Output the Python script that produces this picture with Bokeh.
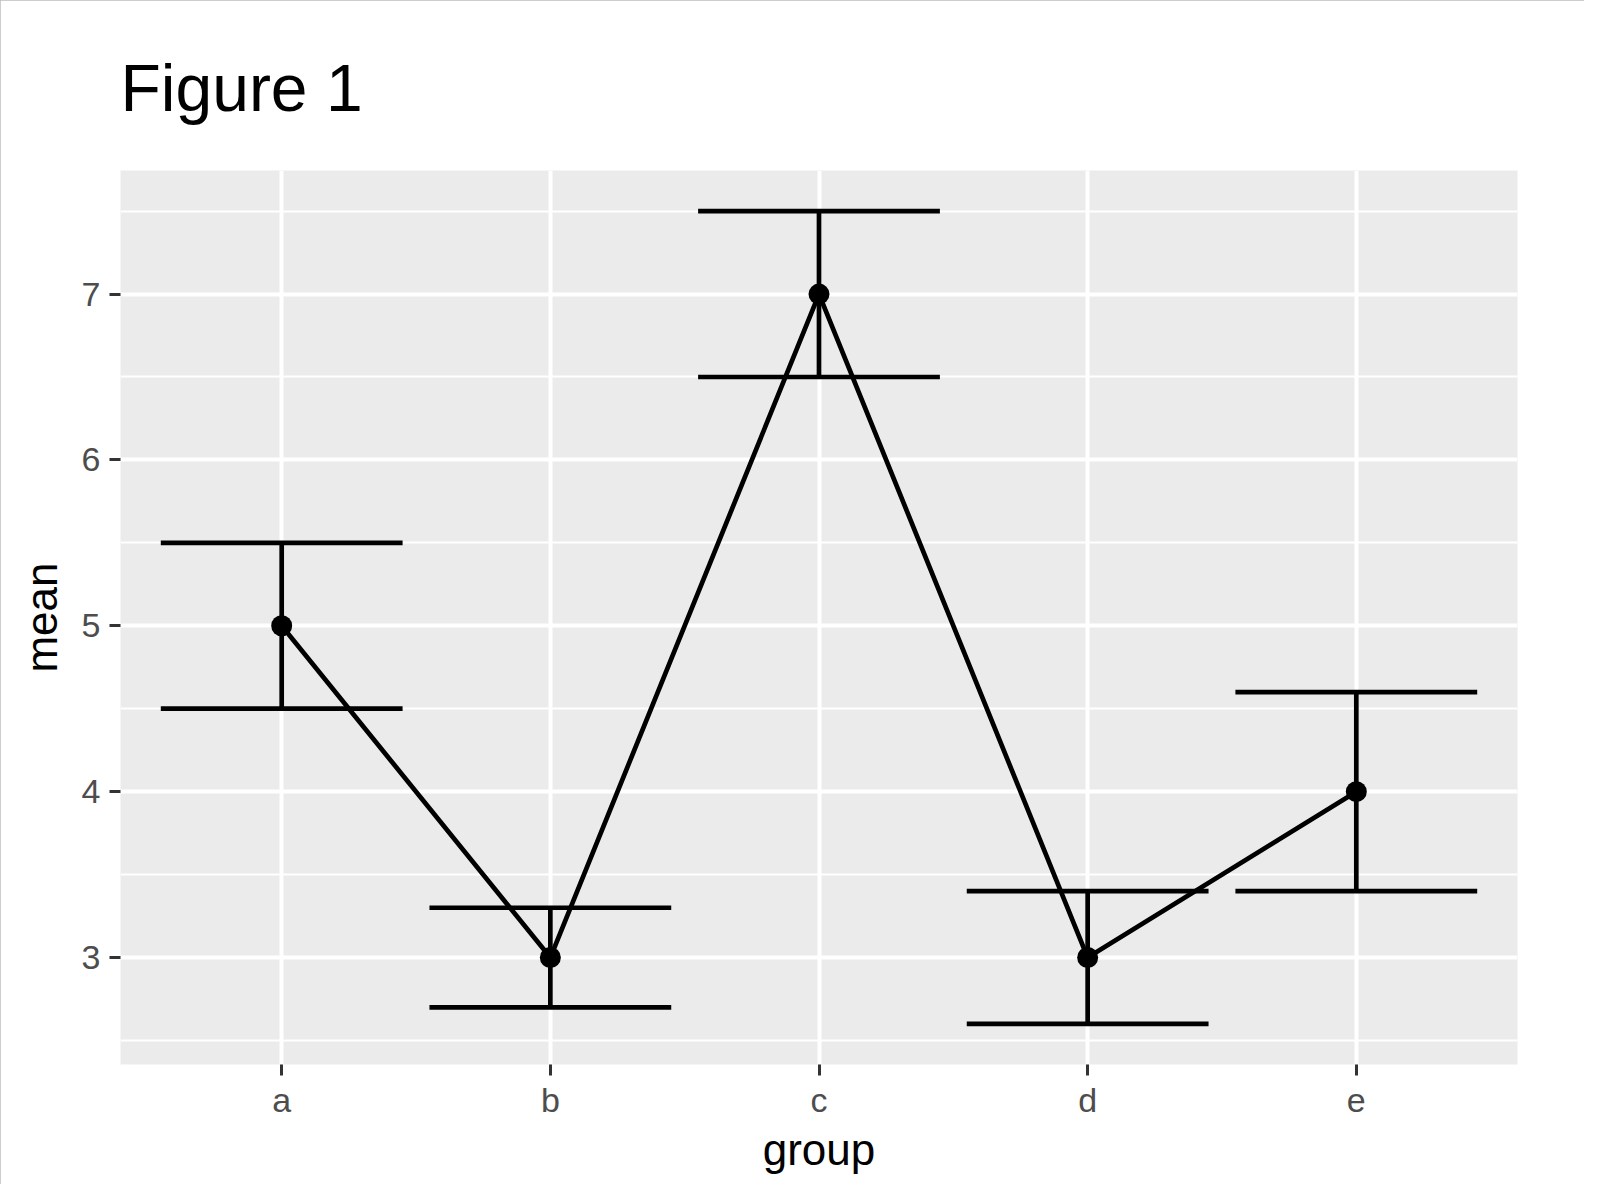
from bokeh.plotting import figure
from bokeh.models import ColumnDataSource, FactorRange, Range1d, FixedTicker
from bokeh.transform import dodge
from bokeh.embed import file_html
from bokeh.resources import INLINE

# ---- data ----
groups = ["a", "b", "c", "d", "e"]
means = [5.0, 3.0, 7.0, 3.0, 4.0]
lower = [4.5, 2.7, 6.5, 2.6, 3.4]
upper = [5.5, 3.3, 7.5, 3.4, 4.6]
y_ticks = [3, 4, 5, 6, 7]
y_minor = [2.5, 3.5, 4.5, 5.5, 6.5, 7.5]
title_text = "Figure 1"
x_label = "group"
y_label = "mean"

FONT = "Liberation Sans"

src = ColumnDataSource(dict(group=groups, mean=means, lower=lower, upper=upper))

lo, hi = min(lower), max(upper)
pad = 0.05 * (hi - lo)

p = figure(
    x_range=FactorRange(factors=groups, range_padding=0.1, range_padding_units="absolute"),
    y_range=Range1d(lo - pad, hi + pad),
    frame_width=1397, frame_height=894,
    min_border_left=120, min_border_right=67,
    min_border_top=170, min_border_bottom=120,
    output_backend="svg", toolbar_location=None,
    background_fill_color="#EBEBEB", border_fill_color="white",
)
p.outline_line_color = None
p.styles = {"outline": "3px solid #BDBDBD", "outline-offset": "-3px"}

# title
p.title.text = title_text
p.title.text_font = FONT
p.title.text_font_size = "66px"
p.title.text_font_style = "normal"
p.title.text_color = "black"
p.title.align = "left"
p.title.standoff = 92

# grids
p.xgrid.grid_line_color = "white"
p.xgrid.grid_line_width = 4
p.ygrid.grid_line_color = "white"
p.ygrid.grid_line_width = 4
p.ygrid.minor_grid_line_color = "white"
p.ygrid.minor_grid_line_width = 2
p.yaxis.ticker = FixedTicker(ticks=y_ticks, minor_ticks=y_minor)

for ax in (p.xaxis[0], p.yaxis[0]):
    ax.axis_line_color = None
    ax.major_tick_in = 0
    ax.major_tick_out = 11
    ax.major_tick_line_width = 3
    ax.major_tick_line_color = "#333333"
    ax.minor_tick_line_color = None
    ax.major_label_text_font = FONT
    ax.major_label_text_font_size = "34px"
    ax.major_label_text_color = "#4D4D4D"
    ax.axis_label_text_font = FONT
    ax.axis_label_text_font_size = "44px"
    ax.axis_label_text_font_style = "normal"
    ax.axis_label_text_color = "black"

p.xaxis.axis_label = x_label
p.yaxis.axis_label = y_label
p.xaxis.major_label_standoff = 5
p.xaxis.axis_label_standoff = 3
p.yaxis.major_label_standoff = 9
p.yaxis.axis_label_standoff = 13

LW = 4.7
# error bars: vertical stems
p.segment(x0="group", x1="group", y0="lower", y1="upper", source=src,
          line_color="black", line_width=LW)
# caps
p.segment(x0=dodge("group", -0.45, range=p.x_range), x1=dodge("group", 0.45, range=p.x_range),
          y0="lower", y1="lower", source=src, line_color="black", line_width=LW)
p.segment(x0=dodge("group", -0.45, range=p.x_range), x1=dodge("group", 0.45, range=p.x_range),
          y0="upper", y1="upper", source=src, line_color="black", line_width=LW)
# connecting line
p.line(x="group", y="mean", source=src, line_color="black", line_width=LW)
# points
p.scatter(x="group", y="mean", source=src, size=21, fill_color="black", line_color=None)

open("out.html", "w").write(file_html(p, INLINE))
